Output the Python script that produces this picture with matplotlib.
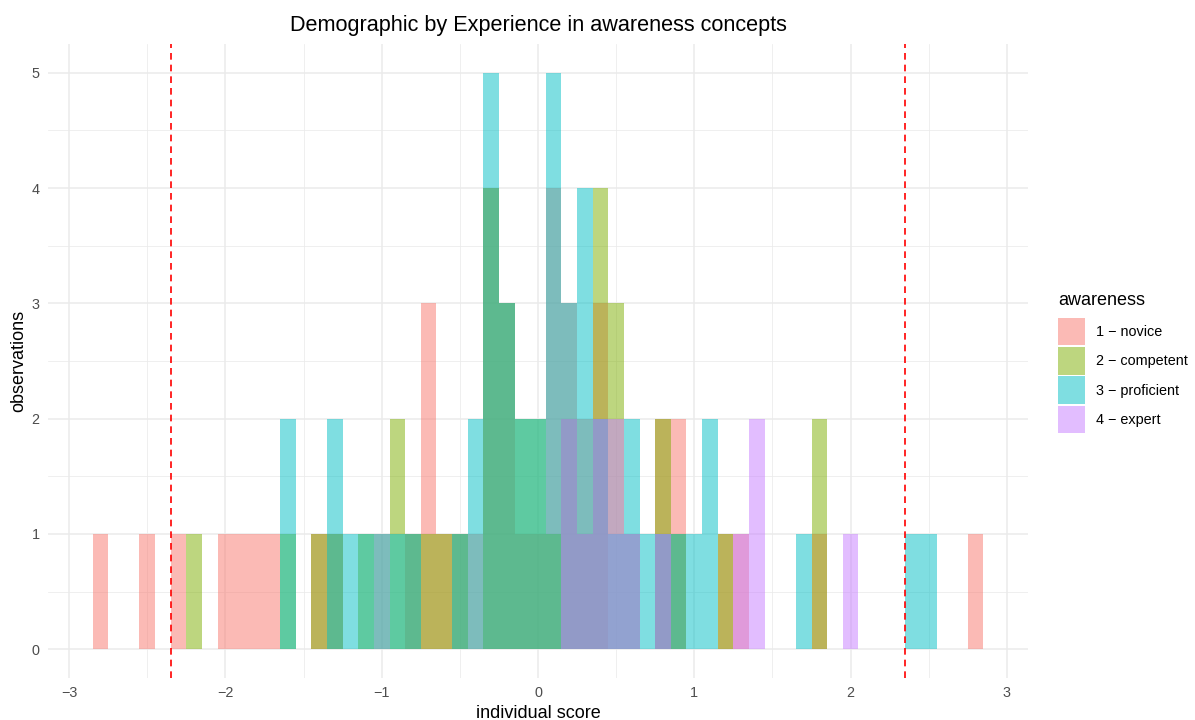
import matplotlib
matplotlib.use("Agg")
import matplotlib.pyplot as plt
import matplotlib.patches as mpatches

# ---------------- data (bin centres, counts) ----------------
binwidth = 0.1
novice_x = [-2.8, -2.5, -2.3, -2.0, -1.9, -1.8, -1.7, -1.4, -1.3, -1.0, -0.8, -0.7, -0.6, -0.5,
            -0.4, -0.3, -0.2, -0.1, 0.0, 0.1, 0.2, 0.3, 0.4, 0.8, 0.9, 1.2, 1.3, 1.8, 2.8]
novice_n = [1, 1, 1, 1, 1, 1, 1, 1, 1, 1, 1, 3, 1, 1,
            1, 4, 3, 1, 1, 4, 3, 2, 3, 2, 2, 1, 1, 1, 1]

competent_x = [-2.2, -1.6, -1.4, -1.3, -1.1, -0.9, -0.8, -0.7, -0.6, -0.5, -0.3, -0.2, -0.1, 0.0,
               0.1, 0.2, 0.3, 0.4, 0.5, 0.6, 0.8, 0.9, 1.2, 1.8]
competent_n = [1, 1, 1, 1, 1, 2, 1, 1, 1, 1, 4, 3, 2, 2,
               1, 2, 1, 4, 3, 1, 2, 1, 1, 2]

proficient_x = [-1.6, -1.3, -1.2, -1.1, -1.0, -0.9, -0.8, -0.5, -0.4, -0.3, -0.2, -0.1, 0.0, 0.1,
                0.2, 0.3, 0.4, 0.5, 0.6, 0.7, 0.8, 0.9, 1.0, 1.1, 1.7, 2.4, 2.5]
proficient_n = [2, 2, 1, 1, 1, 1, 1, 1, 2, 5, 3, 2, 2, 5,
                3, 4, 2, 1, 2, 1, 1, 1, 1, 2, 1, 1, 1]

expert_x = [0.2, 0.3, 0.4, 0.5, 0.6, 0.8, 1.3, 1.4, 2.0]
expert_n = [2, 1, 2, 2, 1, 1, 1, 2, 1]

groups = ["1 \u2212 novice", "2 \u2212 competent", "3 \u2212 proficient", "4 \u2212 expert"]
colors = ["#F8766D", "#7CAE00", "#00BFC4", "#C77CFF"]
cutoffs = [-2.35, 2.35]

title = "Demographic by Experience in awareness concepts"
xlabel = "individual score"
ylabel = "observations"
legend_title = "awareness"

# ---------------- figure ----------------
plt.rcParams['font.family'] = ['Liberation Sans', 'DejaVu Sans']
fig = plt.figure(figsize=(11.95, 7.2), dpi=100)
ax = fig.add_axes([48 / 1195, 42 / 720, (1028 - 48) / 1195, (678 - 44) / 720])

series = [(novice_x, novice_n), (competent_x, competent_n),
          (proficient_x, proficient_n), (expert_x, expert_n)]
handles = []
for (xs, ns), col, lab in zip(series, colors, groups):
    ax.bar(xs, ns, width=binwidth, color=col, alpha=0.5, linewidth=0, zorder=2)
    handles.append(mpatches.Patch(facecolor=col, alpha=0.5, edgecolor='none', label=lab))

for c in cutoffs:
    ax.axvline(c, color="red", linestyle=(0, (4, 3)), linewidth=1.2, zorder=3)

ax.set_xlim(-3.135, 3.135)
ax.set_ylim(-0.25, 5.25)
ax.set_xticks([-3, -2, -1, 0, 1, 2, 3])
ax.set_xticks([-2.5, -1.5, -0.5, 0.5, 1.5, 2.5], minor=True)
ax.set_yticks([0, 1, 2, 3, 4, 5])
ax.set_yticks([0.5, 1.5, 2.5, 3.5, 4.5], minor=True)
ax.grid(which="major", color="#EBEBEB", linewidth=1.1, zorder=0)
ax.grid(which="minor", color="#EBEBEB", linewidth=0.55, zorder=0)
ax.set_axisbelow(True)
for s in ax.spines.values():
    s.set_visible(False)
ax.tick_params(which="both", length=0, labelsize=10.4, labelcolor="#4D4D4D")
ax.tick_params(axis="x", pad=6)
ax.tick_params(axis="y", pad=6)

ax.set_title(title, fontsize=15.6, pad=9, color="black")
ax.set_xlabel(xlabel, fontsize=13, labelpad=3)
ax.set_ylabel(ylabel, fontsize=13, labelpad=3)

# legend title drawn separately so the gap to the keys matches
fig.text(1058 / 1195, 1 - 300 / 720, legend_title, fontsize=13, ha="left", va="center")
leg = fig.legend(handles=handles, loc="upper left",
                 bbox_to_anchor=(1058 / 1195, 1 - 318 / 720), frameon=False,
                 fontsize=10.4, handlelength=1.87, handleheight=2.55,
                 labelspacing=0.12, handletextpad=0.75, borderaxespad=0,
                 borderpad=0)

fig.savefig("out.png", dpi=100, facecolor="white")
